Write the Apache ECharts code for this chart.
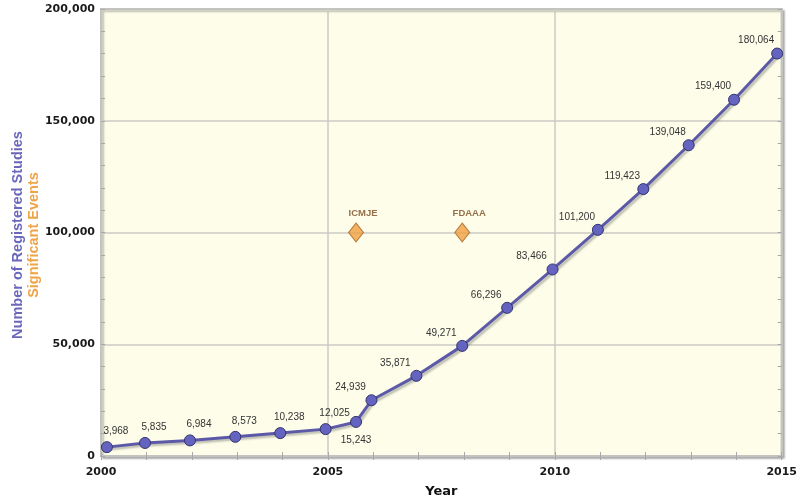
<!DOCTYPE html>
<html>
<head>
<meta charset="utf-8">
<style>
  html, body { margin: 0; padding: 0; background: #ffffff; }
  #chart { width: 800px; height: 503px; }
</style>
<script src="https://cdn.jsdelivr.net/npm/echarts@6/dist/echarts.min.js"></script>
</head>
<body>
<div id="chart"></div>
<script>
// registered studies, by (decimal) year
var years = [2000.13, 2000.97, 2001.96, 2002.96, 2003.95, 2004.95, 2005.62, 2005.96,
  2006.95, 2007.96, 2008.95, 2009.95, 2010.95, 2011.95, 2012.95, 2013.95, 2014.9];
var studies = [3968, 5835, 6984, 8573, 10238, 12025, 15243, 24939,
  35871, 49271, 66296, 83466, 101200, 119423, 139048, 159400, 180064];

// significant events
var eventNames = ['ICMJE', 'FDAAA'];
var eventYears = [2005.62, 2007.96];
var eventValues = [100000, 100000];

var xTicks = [2000, 2005, 2010, 2015];
var yTicks = [0, 50000, 100000, 150000, 200000];

(function () {
  var chart = echarts.init(document.getElementById('chart'), null, { renderer: 'canvas' });

  function fmt(v) {
    return Number(v).toLocaleString('en-US');
  }

  var studyData = years.map(function (y, i) {
    var lab;
    if (i < 6) lab = { position: 'top', offset: [9, 0] };
    else if (i === 6) lab = { position: 'bottom', offset: [0, 2] };
    else lab = { position: 'top', offset: [-21, 3] };
    return { value: [y, studies[i]], label: lab };
  });

  var eventData = eventYears.map(function (y, i) {
    return { name: eventNames[i], value: [y, eventValues[i]] };
  });

  var tickStyle = { show: true, inside: true, length: 4, lineStyle: { color: '#a8a8a8', width: 1 } };
  var minorStyle = { show: true, splitNumber: 5, length: 4, lineStyle: { color: '#a8a8a8', width: 1 } };
  var axisText = { fontFamily: 'DejaVu Sans', fontWeight: 'bold', fontSize: 11, color: '#1a1a1a' };

  var option = {
    backgroundColor: '#ffffff',
    animation: false,
    grid: {
      left: 101, right: 17, top: 9, bottom: 42,
      show: true,
      backgroundColor: '#fdfdea',
      borderColor: '#b0b0b0',
      borderWidth: 2,
      shadowColor: 'rgba(0,0,0,0.25)',
      shadowOffsetX: 2,
      shadowOffsetY: 2,
      shadowBlur: 2
    },
    xAxis: [
      {
        type: 'value', min: 2000, max: 2015, interval: 5,
        name: 'Year', nameLocation: 'middle', nameGap: 29,
        nameTextStyle: { fontFamily: 'DejaVu Sans', fontWeight: 'bold', fontSize: 13, color: '#111' },
        axisLine: { show: false },
        axisTick: tickStyle,
        minorTick: minorStyle,
        axisLabel: Object.assign({ margin: 11, formatter: function (v) { return xTicks.indexOf(v) >= 0 ? String(v) : ''; } }, axisText),
        splitLine: { show: true, lineStyle: { color: '#cacac4', width: 1.5 } }
      },
      {
        type: 'value', min: 2000, max: 2015, interval: 5, position: 'top',
        axisLine: { show: false }, axisTick: tickStyle, minorTick: minorStyle,
        axisLabel: { show: false }, splitLine: { show: false }
      }
    ],
    yAxis: [
      {
        type: 'value', min: 0, max: 200000, interval: 50000,
        axisLine: { show: false },
        axisTick: tickStyle,
        minorTick: minorStyle,
        axisLabel: Object.assign({ margin: 6, formatter: function (v) { return yTicks.indexOf(v) >= 0 ? fmt(v) : ''; } }, axisText),
        splitLine: { show: true, lineStyle: { color: '#cacac4', width: 1.5 } }
      },
      {
        type: 'value', min: 0, max: 200000, interval: 50000, position: 'right',
        axisLine: { show: false }, axisTick: tickStyle, minorTick: minorStyle,
        axisLabel: { show: false }, splitLine: { show: false }
      }
    ],
    graphic: [
      {
        type: 'text', x: 18, y: 235, rotation: Math.PI / 2,
        style: {
          text: 'Number of Registered Studies', fill: '#6b68bb',
          font: 'bold 14.5px "Liberation Sans", Arial, sans-serif',
          align: 'center', verticalAlign: 'middle'
        }
      },
      {
        type: 'text', x: 34, y: 235, rotation: Math.PI / 2,
        style: {
          text: 'Significant Events', fill: '#f0a448',
          font: 'bold 14.5px "Liberation Sans", Arial, sans-serif',
          align: 'center', verticalAlign: 'middle'
        }
      }
    ],
    series: [
      {
        name: 'Registered Studies',
        type: 'line',
        data: studyData,
        symbol: 'circle',
        symbolSize: 11,
        lineStyle: {
          color: '#5c5aa8', width: 3,
          shadowColor: 'rgba(0,0,0,0.25)', shadowOffsetX: 2, shadowOffsetY: 2, shadowBlur: 2
        },
        itemStyle: { color: '#6464c0', borderColor: '#33336e', borderWidth: 1 },
        label: {
          show: true,
          formatter: function (p) { return fmt(p.value[1]); },
          fontFamily: '"Liberation Sans Narrow", "Liberation Sans", Arial, sans-serif',
          fontSize: 10,
          color: '#333333'
        },
        z: 3
      },
      {
        name: 'Significant Events',
        type: 'scatter',
        data: eventData,
        symbol: 'diamond',
        symbolSize: [15, 19],
        itemStyle: { color: '#f0a040', borderColor: '#a8682a', borderWidth: 1 },
        label: {
          show: true,
          position: 'top',
          distance: 4,
          offset: [7, 0],
          formatter: '{b}',
          fontFamily: '"Liberation Sans", Arial, sans-serif',
          fontWeight: 'bold',
          fontSize: 9.5,
          color: '#7a4a1e'
        },
        z: 4
      }
    ]
  };

  chart.setOption(option);
  window.addEventListener('resize', function () {
    chart.resize();
  });
})();
</script>
</body>
</html>
